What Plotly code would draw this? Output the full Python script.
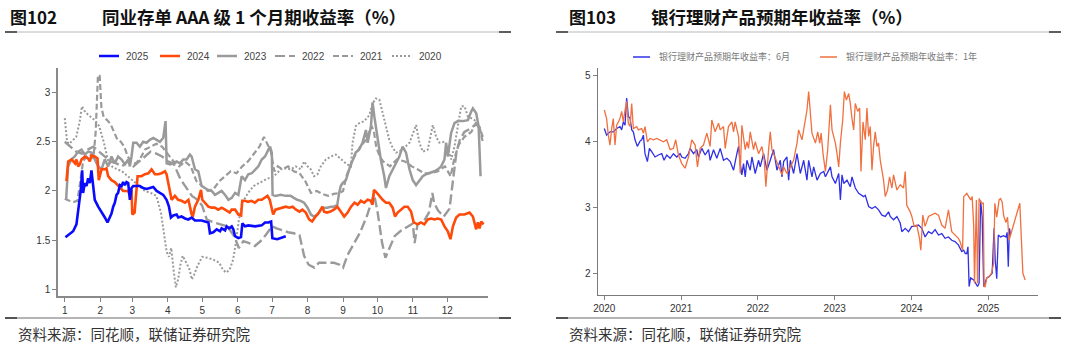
import plotly.graph_objects as go

W, H = 1066, 348


def px(x):
    return x / W


def py(y):
    return 1 - y / H


# ---------------- left chart: AAA 1M NCD yield, x = day of year ----------------
MONTH_STARTS = [0, 31, 59, 90, 120, 151, 181, 212, 243, 273, 304, 334]
MONTH_LABELS = ["1", "2", "3", "4", "5", "6", "7", "8", "9", "10", "11", "12"]
LEFT_YTICKS = [1, 1.5, 2, 2.5, 3]

NCD_2025 = [(0.6, 1.53), (4.4, 1.56), (7.3, 1.59), (10.2, 1.66), (12.2, 1.84), (14, 2.01), (15.2, 2.21),
            (16, 1.98), (17.5, 2.08), (19, 2.05), (20.4, 2.13), (21.9, 2.08), (23.3, 2.21), (24.8, 2.05),
            (26.2, 1.91), (29.2, 1.84), (32.1, 1.79), (35, 1.73), (37.3, 1.68), (39.4, 1.74), (40.8, 1.77),
            (42.3, 1.84), (43.7, 1.88), (45.2, 1.96), (46.6, 1.98), (48.1, 2.06), (49.6, 2.05), (51, 2.09),
            (52.5, 2.06), (53.9, 2.09), (55.4, 2.08), (56.9, 1.91), (58.3, 2.03), (59.8, 2.05), (62.7, 2.05),
            (65.6, 2.05), (68.5, 2.03), (71.4, 2.02), (74.3, 2.03), (77.3, 2.04), (80.2, 2.00), (83.1, 1.98),
            (86, 1.96), (88.9, 1.91), (91, 1.84), (92.7, 1.73), (94.8, 1.75), (97.7, 1.76), (99.1, 1.73),
            (102, 1.74), (105, 1.72), (107.9, 1.71), (110.8, 1.73), (113.7, 1.70), (116.6, 1.70),
            (119.5, 1.70), (122.4, 1.69), (125.4, 1.68), (126.8, 1.57), (129.7, 1.58), (132.7, 1.61),
            (135.6, 1.59), (137, 1.62), (140, 1.60), (141.4, 1.64), (143.4, 1.62), (145.8, 1.64),
            (147.2, 1.61), (148.7, 1.54), (151.6, 1.52), (153.9, 1.53), (155.1, 1.67), (157.4, 1.64),
            (160.3, 1.65), (166.2, 1.64), (172, 1.65), (174.9, 1.68), (177.8, 1.68), (180.2, 1.69),
            (181.3, 1.52), (185.6, 1.51), (190, 1.53), (193, 1.54)]

NCD_2024 = [(1.5, 2.10), (3, 2.30), (6, 2.32), (9, 2.28), (10.2, 2.32), (11.7, 2.25), (13.1, 2.27), (14.6, 2.32),
            (17.5, 2.35), (20.4, 2.33), (21.9, 2.30), (23.3, 2.36), (26.2, 2.35), (28.6, 2.33), (29.7, 2.11),
            (32.1, 2.22), (35, 2.22), (36.4, 2.23), (37.9, 2.15), (40.8, 2.11), (43.7, 2.09), (46.6, 2.05),
            (49.6, 2.01), (51, 2.0), (53.9, 2.0), (55.4, 2.0), (57, 1.95), (58.3, 2.01), (59, 1.76), (61, 1.78),
            (63.6, 2.15), (67, 2.15), (70, 2.17), (73, 2.18), (75.8, 2.22), (78.7, 2.17), (81.6, 2.17),
            (84.5, 2.18), (87.5, 2.20), (88.9, 2.17), (90.4, 2.08), (93.3, 1.91), (96.2, 1.95), (99, 1.91),
            (102, 1.90), (105, 1.88), (108, 1.91), (110.8, 1.76), (112, 1.75), (113.7, 1.84), (116.6, 1.91),
            (119, 2.01), (120.1, 1.91), (122.4, 1.88), (125.4, 1.84), (128.3, 1.83), (131, 1.83), (134, 1.81),
            (137, 1.83), (140, 1.81), (142.9, 1.79), (144, 1.78), (145.8, 1.81), (148.7, 1.81), (151.6, 1.76),
            (154, 1.75), (155, 1.90), (157.4, 1.90), (160, 1.89), (163, 1.90), (166, 1.88), (169, 1.91),
            (172, 1.91), (175, 1.93), (177, 1.95), (179, 1.91), (180.5, 1.84), (182, 1.76), (184, 1.81),
            (187, 1.82), (190, 1.83), (193, 1.84), (196, 1.83), (199, 1.84), (202, 1.81), (205, 1.79),
            (207.5, 1.81), (210.5, 1.78), (213.4, 1.71), (216, 1.69), (219, 1.74), (222, 1.78), (225, 1.84),
            (226.5, 1.79), (229, 1.78), (232, 1.79), (235, 1.81), (238, 1.84), (241, 1.79), (244, 1.74),
            (247, 1.78), (250, 1.84), (253, 1.88), (255.7, 1.86), (258.6, 1.90), (261.5, 1.88), (264.5, 1.91),
            (267.4, 1.90), (268.8, 1.86), (270, 2.01), (272.6, 1.98), (274.7, 1.95), (277.6, 1.91),
            (280.5, 1.88), (283.4, 1.88), (286.3, 1.83), (288.4, 1.74), (290.7, 1.78), (293.6, 1.81),
            (296.6, 1.84), (299.5, 1.84), (302.4, 1.79), (304.7, 1.68), (308.2, 1.66), (311, 1.68), (314, 1.66),
            (317, 1.71), (320, 1.72), (322.8, 1.71), (325.8, 1.72), (328.7, 1.71), (331.6, 1.64), (334.5, 1.59),
            (336.8, 1.51), (339, 1.64), (341.8, 1.73), (344.7, 1.76), (349, 1.76), (353.5, 1.78), (356.4, 1.74),
            (359.3, 1.61), (360.8, 1.68), (362.2, 1.62), (363.7, 1.69), (365.7, 1.66)]

NCD_2023 = [(1.2, 1.91), (2.9, 2.25), (5.8, 2.32), (8.7, 2.35), (11.7, 2.40), (14.6, 2.42), (17.5, 2.37),
            (20.4, 2.40), (23.3, 2.39), (26.2, 2.32), (29.2, 2.25), (32.1, 2.22), (35, 2.32), (37.9, 2.25),
            (40.8, 2.35), (43.7, 2.28), (46.6, 2.35), (49.6, 2.32), (52.5, 2.27), (55.4, 2.32), (56.9, 2.25),
            (58.3, 2.35), (59.8, 2.49), (62.7, 2.49), (65.6, 2.45), (68.5, 2.50), (71.4, 2.49), (74.3, 2.52),
            (77.3, 2.54), (80.2, 2.52), (83.1, 2.50), (86, 2.54), (88, 2.71), (89, 2.28), (92, 2.27),
            (94.8, 2.28), (97.7, 2.30), (100.6, 2.28), (103.5, 2.32), (106.4, 2.32), (109.3, 2.37),
            (110.8, 2.35), (113.7, 2.22), (116.6, 2.20), (119.5, 2.05), (122.4, 2.03), (125.4, 2.01),
            (128.3, 2.00), (131.2, 1.96), (134.1, 1.98), (137, 2.00), (140, 1.96), (142.9, 1.91), (145.8, 1.93),
            (148.7, 1.98), (151.6, 1.96), (154.5, 2.15), (157.4, 2.11), (160.3, 2.17), (163.3, 2.18),
            (166.2, 2.22), (169.1, 2.25), (172, 2.32), (174.9, 2.35), (177.8, 2.42), (179.3, 2.45),
            (180.8, 2.39), (181.5, 1.96), (184, 1.95), (188.6, 1.96), (193, 1.95), (197.3, 1.95), (200, 1.93),
            (203, 1.91), (206, 1.90), (209, 1.88), (212, 1.83), (215, 1.76), (217.7, 1.74), (220.7, 1.76),
            (223.6, 1.81), (226.5, 1.83), (229.4, 1.83), (232.3, 1.84), (235, 1.84), (238, 1.86), (239.6, 1.98),
            (241, 2.05), (242.6, 2.08), (245.5, 2.11), (248.4, 2.22), (251.3, 2.32), (254, 2.39), (257, 2.42),
            (260, 2.49), (263, 2.62), (264.5, 2.49), (267.4, 2.66), (268.8, 2.90), (270.3, 2.76), (273.2, 2.52),
            (276, 2.32), (279, 2.15), (280.5, 2.03), (283.4, 2.15), (286.3, 2.22), (289.3, 2.28), (292.2, 2.35),
            (295, 2.45), (298, 2.39), (301, 2.22), (303.9, 2.11), (306.8, 2.06), (309.7, 2.11), (312.6, 2.15),
            (315.5, 2.17), (318.5, 2.18), (322.8, 2.20), (325.8, 2.22), (328.7, 2.25), (331.6, 2.32),
            (333, 2.49), (334.5, 2.35), (337.4, 2.59), (340.3, 2.69), (343.3, 2.71), (347.6, 2.71), (352, 2.72),
            (355, 2.81), (356.4, 2.84), (359.3, 2.79), (361.4, 2.66), (363.1, 2.15)]

NCD_2022 = [(0, 2.50), (5, 2.45), (10, 2.40), (15, 2.38), (20, 2.42), (25, 2.45), (30, 2.40), (35, 2.35),
            (40, 2.30), (45, 2.28), (50, 2.25), (55, 2.30), (60, 2.25), (65, 2.30), (70, 2.35), (75, 2.40),
            (80, 2.38), (85, 2.35), (90, 2.30), (95, 2.28), (101, 2.12), (107, 2.01), (111, 1.95), (116, 1.91),
            (120, 1.85), (124, 1.71), (130, 1.68), (136, 1.66), (142, 1.64), (148, 1.54), (152, 1.42),
            (156, 1.49), (161, 1.47), (166, 1.44), (172, 1.50), (176, 1.56), (181, 1.64), (185, 1.62),
            (190, 1.60), (195, 1.58), (200, 1.57), (205, 1.55), (209, 1.34), (213, 1.25), (218, 1.22),
            (222, 1.27), (228, 1.27), (235, 1.27), (240, 1.25), (243, 1.22), (247, 1.35), (252, 1.45),
            (258, 1.58), (264, 1.75), (270, 1.97), (273, 1.80), (277, 1.48), (280, 1.32), (284, 1.44),
            (288, 1.54), (294, 1.60), (300, 1.64), (304, 1.67), (305.5, 1.47), (308, 1.66), (314, 1.70),
            (318, 1.78), (321, 1.98), (322.5, 1.88), (326, 1.80), (331, 1.74), (336, 1.82), (339, 2.08),
            (342, 2.39), (345, 2.52), (349, 2.60), (355, 2.64), (359, 2.68), (362, 2.65), (365, 2.55)]

NCD_2021 = [(0, 1.92), (4, 1.90), (8, 1.89), (11, 1.90), (13, 2.05), (16, 2.30), (19, 2.35), (22, 2.37),
            (25, 2.33), (27, 2.60), (29, 3.18), (30.5, 3.17), (32, 2.85), (34, 2.75), (37, 2.72), (40, 2.68),
            (43, 2.60), (46, 2.52), (49, 2.50), (52, 2.45), (55, 2.35), (58, 2.30), (62, 2.28), (66, 2.33),
            (70, 2.42), (75, 2.45), (80, 2.48), (85, 2.45), (90, 2.38), (95, 2.30), (100, 2.25), (105, 2.30),
            (110, 2.25), (115, 2.10), (120, 2.05), (125, 2.00), (130, 2.02), (135, 2.10), (140, 2.15),
            (145, 2.20), (150, 2.18), (155, 2.25), (160, 2.30), (165, 2.38), (170, 2.45), (174, 2.55),
            (177, 2.47), (180, 2.40), (183, 2.20), (186, 2.25), (190, 2.22), (195, 2.25), (200, 2.20),
            (205, 2.18), (210, 2.10), (215, 1.98), (220, 2.00), (225, 1.97), (230, 1.95), (235, 1.97),
            (240, 1.98), (243, 2.00), (246, 2.15), (250, 2.28), (253, 2.35), (258, 2.45), (263, 2.52),
            (268, 2.66), (270, 2.60), (272, 2.45), (275, 2.35), (278, 2.30), (284, 2.25), (290, 2.32),
            (297, 2.30), (303, 2.25), (308, 2.22), (314, 2.18), (320, 2.18), (326, 2.20), (332, 2.25),
            (337, 2.15), (340, 2.32), (344, 2.47), (349, 2.55), (355, 2.60), (359, 2.69), (362, 2.66), (365, 2.50)]

NCD_2020 = [(0, 2.74), (2, 2.50), (4, 2.48), (7, 2.52), (10, 2.55), (13, 2.70), (15, 2.86), (18, 2.80),
            (22, 2.76), (26, 2.72), (30, 2.66), (34, 2.50), (38, 2.30), (42, 2.24), (46, 2.22), (50, 2.20),
            (55, 2.15), (60, 2.10), (65, 2.05), (70, 2.00), (75, 1.98), (80, 1.95), (84, 1.78), (87, 1.55),
            (89, 1.38), (91, 1.33), (93, 1.42), (95, 1.20), (97, 1.02), (99, 1.10), (101, 1.25), (103, 1.34),
            (105, 1.30), (107, 1.25), (109, 1.20), (111, 1.10), (113, 1.15), (116, 1.24), (120, 1.33),
            (125, 1.32), (130, 1.30), (135, 1.27), (138, 1.20), (141, 1.17), (144, 1.20), (147, 1.30),
            (149, 1.44), (152, 1.70), (155, 1.88), (160, 1.98), (165, 2.05), (170, 2.08), (176, 2.12),
            (182.7, 2.15), (188.6, 2.22), (193, 2.23), (197.3, 2.22), (201.7, 2.25), (206, 2.22), (209, 2.30),
            (212, 2.25), (214.8, 2.22), (217.7, 2.15), (220.7, 2.17), (223.6, 2.25), (228, 2.32), (232.3, 2.35),
            (236.7, 2.37), (241, 2.33), (245.5, 2.28), (249.9, 2.25), (251.3, 2.49), (254.2, 2.66),
            (257.2, 2.69), (261.5, 2.71), (265.9, 2.77), (268.8, 2.89), (271.7, 2.94), (274.7, 2.93),
            (277.6, 2.79), (280.5, 2.66), (283.4, 2.52), (286.3, 2.44), (289.3, 2.39), (292.2, 2.40),
            (296.6, 2.44), (301, 2.49), (303.9, 2.59), (306.8, 2.67), (309.7, 2.49), (312.6, 2.40), (317, 2.42),
            (321.4, 2.67), (324.3, 2.55), (327.2, 2.49), (331.6, 2.50), (334.5, 2.45), (337.4, 2.32),
            (340.3, 2.45), (343.3, 2.66), (346.2, 2.86), (349.1, 2.86), (352, 2.76), (355, 2.74), (357.9, 2.72),
            (360.8, 2.66), (363.7, 2.59)]

# ---------------- right chart: bank WMP expected annual yield, x = decimal year ----------------
YEAR_TICKS = [2020, 2021, 2022, 2023, 2024, 2025]
RIGHT_YTICKS = [2, 3, 4, 5]

WMP_6M = [(2020.0, 4.19), (2020.03, 4.09), (2020.074, 4.14), (2020.117, 4.14), (2020.161, 4.19), (2020.204, 4.22),
          (2020.226, 4.17), (2020.248, 4.29), (2020.27, 4.24), (2020.291, 4.65), (2020.313, 4.37),
          (2020.335, 4.35), (2020.357, 4.17), (2020.378, 4.14), (2020.4, 4.02), (2020.43, 3.92),
          (2020.465, 4.00), (2020.487, 4.02), (2020.509, 4.09), (2020.53, 3.81), (2020.561, 3.69),
          (2020.587, 3.89), (2020.617, 3.84), (2020.661, 3.76), (2020.704, 3.79), (2020.748, 3.81),
          (2020.778, 3.71), (2020.813, 3.79), (2020.857, 3.74), (2020.9, 3.81), (2020.943, 3.76),
          (2020.987, 3.81), (2021.009, 3.76), (2021.052, 3.74), (2021.096, 3.81), (2021.117, 3.89),
          (2021.161, 3.81), (2021.204, 3.87), (2021.226, 3.76), (2021.27, 3.89), (2021.313, 3.79),
          (2021.357, 3.87), (2021.378, 3.71), (2021.422, 3.87), (2021.465, 3.74), (2021.509, 3.89),
          (2021.552, 3.71), (2021.596, 3.74), (2021.639, 3.69), (2021.683, 3.56), (2021.726, 3.81),
          (2021.748, 3.92), (2021.77, 3.66), (2021.791, 3.49), (2021.813, 3.66), (2021.835, 3.46),
          (2021.857, 3.71), (2021.9, 3.56), (2021.922, 3.76), (2021.965, 3.51), (2022.009, 3.71),
          (2022.03, 3.61), (2022.074, 3.81), (2022.117, 3.56), (2022.161, 3.71), (2022.204, 3.87),
          (2022.248, 3.56), (2022.291, 3.71), (2022.313, 3.46), (2022.335, 3.69), (2022.378, 3.76),
          (2022.4, 3.41), (2022.422, 3.71), (2022.465, 3.51), (2022.509, 3.81), (2022.552, 3.51),
          (2022.596, 3.71), (2022.639, 3.41), (2022.661, 3.71), (2022.704, 3.46), (2022.726, 3.61),
          (2022.77, 3.41), (2022.813, 3.51), (2022.857, 3.54), (2022.879, 3.46), (2022.922, 3.56),
          (2022.944, 3.61), (2022.965, 3.46), (2023.009, 3.36), (2023.052, 3.51), (2023.074, 3.11),
          (2023.095, 3.49), (2023.117, 3.36), (2023.16, 3.41), (2023.203, 3.31), (2023.225, 3.46),
          (2023.268, 3.29), (2023.312, 3.21), (2023.355, 3.18), (2023.377, 3.16), (2023.398, 3.18),
          (2023.442, 3.01), (2023.485, 2.98), (2023.528, 3.01), (2023.571, 2.96), (2023.615, 2.88),
          (2023.658, 2.86), (2023.701, 2.93), (2023.723, 2.86), (2023.766, 2.81), (2023.81, 2.86),
          (2023.853, 2.76), (2023.874, 2.63), (2023.918, 2.68), (2023.961, 2.63), (2024.004, 2.71),
          (2024.048, 2.71), (2024.091, 2.73), (2024.134, 2.68), (2024.177, 2.55), (2024.221, 2.63),
          (2024.264, 2.60), (2024.307, 2.66), (2024.351, 2.58), (2024.394, 2.60), (2024.437, 2.53),
          (2024.481, 2.55), (2024.524, 2.50), (2024.567, 2.48), (2024.61, 2.43), (2024.654, 2.33),
          (2024.68, 2.35), (2024.70, 2.30), (2024.72, 2.30), (2024.735, 2.40), (2024.75, 1.80),
          (2024.77, 1.93), (2024.81, 1.90), (2024.86, 1.80), (2024.88, 1.85), (2024.90, 3.10),
          (2024.92, 2.85), (2024.94, 1.80), (2024.98, 1.93), (2025.01, 1.95), (2025.05, 2.00),
          (2025.075, 2.68), (2025.09, 2.20), (2025.11, 1.92), (2025.13, 2.58), (2025.16, 2.55),
          (2025.20, 2.57), (2025.23, 2.55), (2025.245, 2.62), (2025.26, 2.10), (2025.275, 2.68), (2025.29, 2.58)]

WMP_1Y = [(2020.0, 4.47), (2020.03, 4.34), (2020.052, 4.09), (2020.074, 3.94), (2020.096, 4.19), (2020.117, 4.34),
          (2020.139, 3.94), (2020.161, 4.24), (2020.183, 4.29), (2020.204, 4.34), (2020.226, 4.45),
          (2020.248, 4.29), (2020.27, 4.47), (2020.291, 4.60), (2020.313, 4.27), (2020.335, 4.22),
          (2020.357, 4.57), (2020.378, 4.19), (2020.422, 4.22), (2020.443, 4.17), (2020.487, 4.19),
          (2020.509, 4.12), (2020.53, 4.22), (2020.561, 3.99), (2020.596, 4.04), (2020.639, 4.02),
          (2020.683, 4.04), (2020.726, 4.02), (2020.77, 3.99), (2020.813, 4.02), (2020.857, 3.87),
          (2020.9, 3.89), (2020.93, 4.02), (2020.965, 3.79), (2021.009, 3.66), (2021.052, 3.59),
          (2021.096, 3.76), (2021.139, 4.02), (2021.183, 3.94), (2021.213, 3.61), (2021.248, 3.89),
          (2021.291, 3.94), (2021.335, 4.12), (2021.378, 3.92), (2021.4, 4.32), (2021.443, 4.14),
          (2021.487, 4.27), (2021.509, 4.17), (2021.552, 4.22), (2021.574, 3.89), (2021.617, 4.22),
          (2021.661, 4.29), (2021.683, 4.14), (2021.704, 4.29), (2021.748, 4.07), (2021.77, 3.51),
          (2021.791, 4.24), (2021.835, 3.87), (2021.857, 3.99), (2021.878, 3.89), (2021.9, 4.14),
          (2021.943, 3.87), (2021.965, 3.99), (2022.009, 3.81), (2022.052, 3.92), (2022.083, 3.71),
          (2022.104, 3.31), (2022.139, 3.87), (2022.161, 4.14), (2022.183, 3.87), (2022.226, 3.74),
          (2022.27, 3.59), (2022.313, 3.49), (2022.335, 3.61), (2022.378, 3.51), (2022.422, 3.61),
          (2022.465, 3.71), (2022.509, 3.97), (2022.53, 4.17), (2022.574, 4.02), (2022.617, 4.32),
          (2022.639, 4.47), (2022.661, 4.75), (2022.704, 4.12), (2022.749, 3.97), (2022.779, 4.14),
          (2022.805, 3.97), (2022.823, 4.12), (2022.848, 3.81), (2022.879, 3.54), (2022.909, 3.87),
          (2022.944, 4.55), (2022.965, 4.17), (2022.987, 4.07), (2023.009, 3.97), (2023.03, 3.81),
          (2023.052, 3.61), (2023.074, 3.97), (2023.104, 4.32), (2023.126, 4.75), (2023.152, 4.62),
          (2023.182, 4.72), (2023.203, 4.57), (2023.225, 4.34), (2023.247, 4.17), (2023.268, 4.57),
          (2023.299, 4.45), (2023.325, 4.50), (2023.342, 3.54), (2023.368, 4.29), (2023.398, 4.02),
          (2023.42, 4.50), (2023.442, 4.07), (2023.463, 4.22), (2023.485, 3.56), (2023.506, 3.92),
          (2023.528, 4.14), (2023.55, 3.92), (2023.571, 3.97), (2023.593, 3.71), (2023.636, 3.41),
          (2023.658, 3.16), (2023.688, 3.26), (2023.714, 3.46), (2023.745, 3.29), (2023.766, 3.49),
          (2023.81, 3.26), (2023.853, 3.34), (2023.896, 3.29), (2023.918, 3.54), (2023.939, 3.03),
          (2023.983, 2.93), (2024.004, 2.86), (2024.035, 2.71), (2024.069, 2.73), (2024.104, 2.53),
          (2024.121, 2.35), (2024.147, 2.88), (2024.177, 2.71), (2024.221, 2.86), (2024.264, 2.88),
          (2024.307, 2.91), (2024.351, 2.88), (2024.394, 2.73), (2024.437, 2.68), (2024.481, 2.96),
          (2024.524, 2.63), (2024.567, 2.58), (2024.61, 2.53), (2024.632, 2.48), (2024.654, 2.40),
          (2024.665, 2.35), (2024.68, 3.16), (2024.72, 3.21), (2024.77, 3.11), (2024.79, 3.16),
          (2024.81, 2.71), (2024.82, 1.85), (2024.845, 3.11), (2024.86, 1.85), (2024.88, 3.13),
          (2024.91, 3.06), (2024.935, 3.06), (2024.945, 1.80), (2024.96, 1.80), (2024.98, 1.93),
          (2025.01, 1.95), (2025.04, 2.00), (2025.07, 2.15), (2025.085, 3.06), (2025.11, 2.85),
          (2025.14, 3.11), (2025.16, 3.13), (2025.18, 3.08), (2025.20, 2.87), (2025.23, 2.77),
          (2025.25, 2.85), (2025.27, 2.50), (2025.41, 3.06), (2025.45, 2.00), (2025.48, 1.90)]

GREY = "#9a9a9a"
LEFT_SERIES = [
    ("2020", NCD_2020, GREY, 2.0, "2px,2px"),
    ("2021", NCD_2021, GREY, 2.2, "6px,3px"),
    ("2022", NCD_2022, GREY, 2.4, "10px,4px"),
    ("2023", NCD_2023, GREY, 2.5, "solid"),
    ("2024", NCD_2024, "#ff4a0a", 2.6, "solid"),
    ("2025", NCD_2025, "#0a0aff", 2.6, "solid"),
]
RIGHT_SERIES = [
    ("银行理财产品预期年收益率：6月", WMP_6M, "#3030e6", 1.3),
    ("银行理财产品预期年收益率：1年", WMP_1Y, "#f0703f", 1.3),
]

fig = go.Figure()
for name, data, color, width, dash in LEFT_SERIES:
    fig.add_trace(go.Scatter(x=[d[0] for d in data], y=[d[1] for d in data], mode="lines", name=name,
                             line=dict(color=color, width=width, dash=dash), showlegend=False,
                             xaxis="x", yaxis="y"))
for name, data, color, width in RIGHT_SERIES:
    fig.add_trace(go.Scatter(x=[d[0] for d in data], y=[d[1] for d in data], mode="lines", name=name,
                             line=dict(color=color, width=width), showlegend=False,
                             xaxis="x2", yaxis="y2"))

TICKFONT = dict(family="Liberation Sans, Arial, sans-serif", size=10, color="#333333")
axis_common = dict(showgrid=False, zeroline=False, showline=True, ticks="outside", ticklen=4,
                   tickcolor="#808080", tickwidth=1, tickfont=TICKFONT, automargin=False)

fig.update_layout(
    width=W, height=H,
    margin=dict(l=0, r=0, t=0, b=0),
    paper_bgcolor="white", plot_bgcolor="white",
    showlegend=False,
    xaxis=dict(domain=[px(58), px(488)], range=[-5.9, 369.6], anchor="y",
               tickmode="array", tickvals=MONTH_STARTS, ticktext=MONTH_LABELS,
               linecolor="#8a8a8a", linewidth=1.5, **axis_common),
    yaxis=dict(domain=[py(296), py(68)], range=[0.932, 3.25], anchor="x",
               tickmode="array", tickvals=LEFT_YTICKS, ticktext=["1", "1.5", "2", "2.5", "3"],
               linecolor="#8a8a8a", linewidth=1.5, **axis_common),
    xaxis2=dict(domain=[px(597.7), px(1038)], range=[2019.914, 2025.647], anchor="y2",
                tickmode="array", tickvals=YEAR_TICKS, ticktext=[str(y) for y in YEAR_TICKS],
                linecolor="#7a7a7a", linewidth=1.2, **axis_common),
    yaxis2=dict(domain=[py(295), py(68)], range=[1.672, 5.106], anchor="x2",
                tickmode="array", tickvals=RIGHT_YTICKS, ticktext=[str(v) for v in RIGHT_YTICKS],
                linecolor="#7a7a7a", linewidth=1.2, **axis_common),
)

shapes = []
annotations = []


def hline(x0, x1, y, color, width):
    shapes.append(dict(type="line", xref="paper", yref="paper", x0=px(x0), x1=px(x1), y0=py(y), y1=py(y),
                       line=dict(color=color, width=width)))


# separators (top and bottom of each panel)
for (a, b) in [(5, 511), (556, 1061)]:
    hline(a, b, 32, "#b8b8b8", 1)
    hline(a, a + 12, 32, "#333333", 1.5)
    hline(b - 12, b, 32, "#333333", 1.5)
    hline(a, b, 318, "#6a6a6a", 1)
    hline(a, a + 12, 318, "#333333", 1.5)
    hline(b - 12, b, 318, "#333333", 1.5)

CJK = "Noto Sans CJK SC, sans-serif"


def text(x, y, s, size, color, anchor="left", family=CJK):
    annotations.append(dict(xref="paper", yref="paper", x=px(x), y=py(y), text=s, showarrow=False,
                            xanchor=anchor, yanchor="middle", font=dict(family=family, size=size, color=color)))


# titles
text(8, 17, "<b>图102</b>", 17, "#111111")
text(100, 17, "<b>同业存单 AAA 级 1 个月期收益率（%）</b>", 17.5, "#111111")
text(567, 17, "<b>图103</b>", 17, "#111111")
text(649, 17, "<b>银行理财产品预期年收益率（%）</b>", 17.5, "#111111")

# sources
text(16, 333, "资料来源：同花顺，联储证券研究院", 14.5, "#333333")
text(567, 333, "资料来源：同花顺，联储证券研究院", 14.5, "#333333")

# left custom legend
LEG_X = [99, 160, 217, 275, 333, 392]
for (name, data, color, width, dash), lx in zip(reversed(LEFT_SERIES), LEG_X):
    shapes.append(dict(type="line", xref="paper", yref="paper", x0=px(lx), x1=px(lx + 20), y0=py(56), y1=py(56),
                       line=dict(color=color, width=2.5 if dash == "solid" else 2.2, dash=dash)))
    text(lx + 25, 56, name, 10, "#444444", family="Liberation Sans, Arial, sans-serif")

# right custom legend
for (name, data, color, width), lx in zip(RIGHT_SERIES, [633, 820]):
    shapes.append(dict(type="line", xref="paper", yref="paper", x0=px(lx), x1=px(lx + 17), y0=py(57), y1=py(57),
                       line=dict(color=color, width=1.5)))
    text(lx + 24, 57, name, 9, "#777777")

fig.update_layout(shapes=shapes, annotations=annotations)
fig.write_html("out.html")
